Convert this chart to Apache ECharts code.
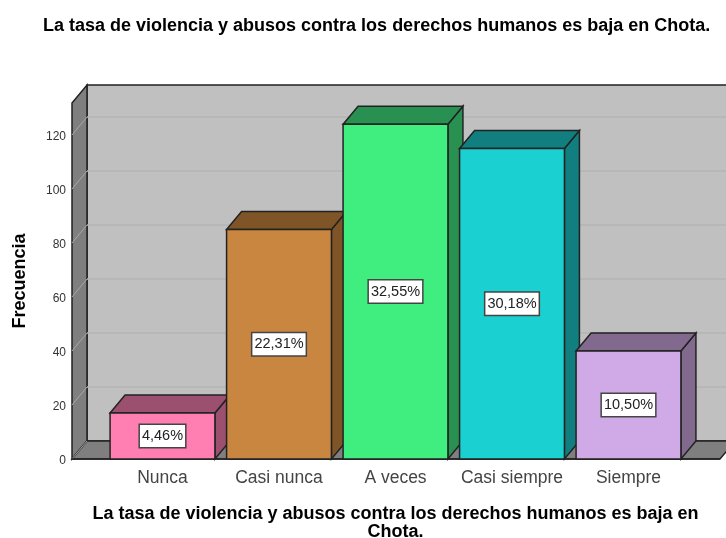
<!DOCTYPE html>
<html>
<head>
<meta charset="utf-8">
<script src="https://cdn.jsdelivr.net/npm/echarts@6/dist/echarts.min.js"></script>
<style>
html, body { margin: 0; padding: 0; background: #fff; }
#main { width: 726px; height: 538px; }
</style>
</head>
<body>
<div id="main"></div>
<script>
const categories = ["Nunca", "Casi nunca", "A veces", "Casi siempre", "Siempre"];
const frecuencia = [17, 85, 124, 115, 40];
const porcentajes = ["4,46%", "22,31%", "32,55%", "30,18%", "10,50%"];
const frontColors = ["#ff7fb2", "#c98640", "#40ee7f", "#1bd0d0", "#cfaae6"];
const darkColors = ["#9b5070", "#7f5528", "#289050", "#117f7f", "#826a8f"];
const tickValues = [0, 20, 40, 60, 80, 100, 120];
const titleText = "La tasa de violencia y abusos contra los derechos humanos es baja en Chota.";
const xTitleText = "La tasa de violencia y abusos contra los derechos humanos es baja en\nChota.";

// 3D depth of the box, in pixels
const depthX = 15;
const depthY = 18;
const edgeColor = "#222";

function poly(points, fill, stroke) {
  return {
    type: "polygon",
    shape: { points: points },
    style: { fill: fill, stroke: stroke || edgeColor, lineWidth: 1.5 },
  };
}

function drawWalls(params, api) {
  const sys = params.coordSys;
  const left = sys.x - 32.25;
  const right = 720;
  const top = sys.y;
  const bottom = sys.y + sys.height;
  const children = [
    poly([[left + depthX, top - depthY], [right + depthX, top - depthY], [right + depthX, bottom - depthY], [left + depthX, bottom - depthY]], "#c0c0c0"),
    poly([[left, top], [left + depthX, top - depthY], [left + depthX, bottom - depthY], [left, bottom]], "#7f7f7f"),
    poly([[left, bottom], [left + depthX, bottom - depthY], [right + depthX, bottom - depthY], [right, bottom]], "#7f7f7f"),
  ];
  tickValues.forEach(function (v) {
    const y = api.coord([0, v])[1];
    children.push({
      type: "line",
      shape: { x1: left, y1: y, x2: left + depthX, y2: y - depthY },
      style: { stroke: "#a8a8a8", lineWidth: 1 },
    });
    if (v > 0) {
      children.push({
        type: "line",
        shape: { x1: left + depthX, y1: y - depthY, x2: right + depthX, y2: y - depthY },
        style: { stroke: "#b5b5b5", lineWidth: 1.5 },
      });
    }
  });
  children.push({
    type: "line",
    shape: { x1: left, y1: bottom, x2: right, y2: bottom },
    style: { stroke: edgeColor, lineWidth: 1.5 },
  });
  return { type: "group", children: children };
}

function drawBar(params, api) {
  const i = api.value(0);
  const p = api.coord([i, api.value(1)]);
  const base = api.coord([i, 0]);
  const w = api.size([1, 0])[0] * 0.9;
  const x0 = p[0] - w / 2;
  const x1 = p[0] + w / 2;
  const y0 = p[1];
  const y1 = base[1];
  return {
    type: "group",
    children: [
      poly([[x1, y0], [x1 + depthX, y0 - depthY], [x1 + depthX, y1 - depthY], [x1, y1]], darkColors[i]),
      poly([[x0, y0], [x0 + depthX, y0 - depthY], [x1 + depthX, y0 - depthY], [x1, y0]], darkColors[i]),
      poly([[x0, y0], [x1, y0], [x1, y1], [x0, y1]], frontColors[i]),
      {
        type: "text",
        x: p[0],
        y: (y0 + y1) / 2,
        style: {
          text: porcentajes[i],
          align: "center",
          verticalAlign: "middle",
          fontFamily: "Liberation Sans",
          fontSize: 14.5,
          fill: "#222",
          backgroundColor: "#fff",
          borderColor: "#444",
          borderWidth: 1.5,
          padding: [4, 2, 3, 2],
        },
      },
    ],
  };
}

const chart = echarts.init(document.getElementById("main"), null, { renderer: "canvas" });
chart.setOption({
  animation: false,
  backgroundColor: "#fff",
  title: {
    text: titleText,
    left: 43,
    top: 17,
    padding: 0,
    textStyle: { fontFamily: "Liberation Sans", fontSize: 18, fontWeight: "bold", color: "#000" },
  },
  grid: { left: 104.25, width: 582.5, top: 103, bottom: 79, outerBoundsMode: "none" },
  xAxis: {
    type: "category",
    data: categories,
    axisLine: { show: false },
    axisTick: { show: false },
    axisLabel: { interval: 0, fontFamily: "Liberation Sans", fontSize: 17.5, color: "#444", margin: 10 },
    name: xTitleText,
    nameLocation: "middle",
    nameGap: 46,
    nameTextStyle: { fontFamily: "Liberation Sans", fontSize: 18, fontWeight: "bold", color: "#000", lineHeight: 18 },
  },
  yAxis: {
    type: "value",
    min: 0,
    max: 131.85,
    offset: 32.25,
    splitLine: { show: false },
    axisLine: { show: false },
    axisTick: { show: false },
    axisLabel: {
      customValues: tickValues,
      margin: 6,
      formatter: "{t|{value}}",
      rich: {
        t: { fontFamily: "Liberation Sans", fontSize: 12, color: "#333", padding: [4, 0, 0, 0] },
      },
    },
    name: "Frecuencia",
    nameLocation: "middle",
    nameGap: 43,
    nameTextStyle: { fontFamily: "Liberation Sans", fontSize: 18, fontWeight: "bold", color: "#000" },
  },
  series: [
    { type: "custom", renderItem: drawWalls, data: [0], clip: false, silent: true, z: 1 },
    {
      type: "custom",
      renderItem: drawBar,
      data: frecuencia.map(function (v, i) { return [i, v]; }),
      clip: false,
      silent: true,
      z: 2,
    },
  ],
});
</script>
</body>
</html>
